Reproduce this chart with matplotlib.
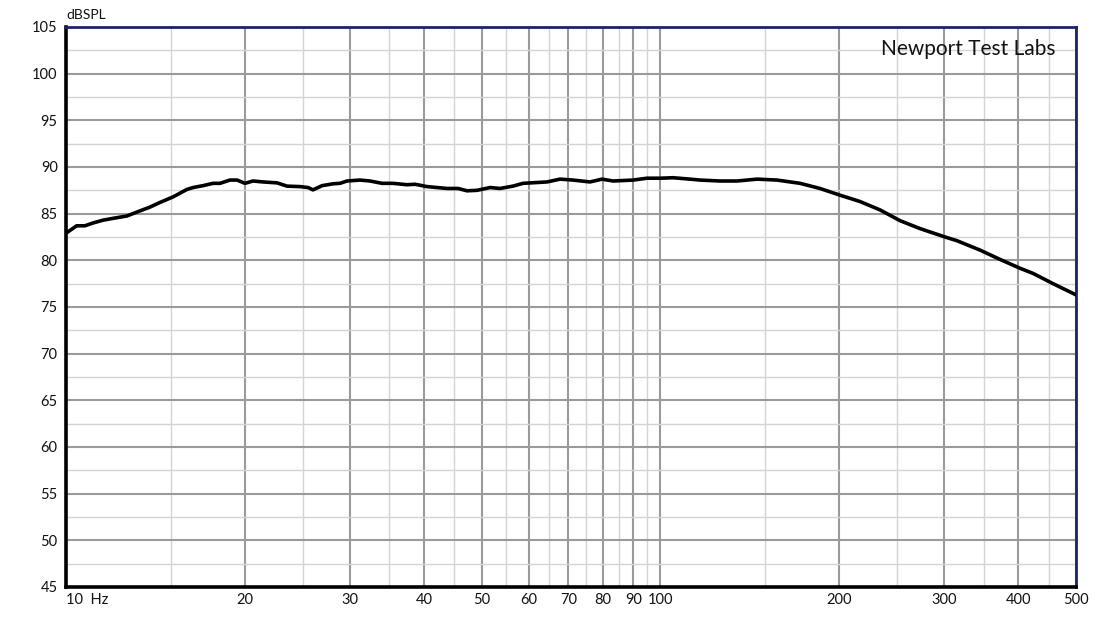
import matplotlib
matplotlib.use("Agg")
import matplotlib.pyplot as plt
from matplotlib.ticker import FixedLocator, NullFormatter

# Data
freq_hz = [10.0, 10.42, 10.76, 11.10, 11.54, 12.00, 12.66, 13.32, 13.84, 14.39,
           15.14, 15.98, 16.36, 17.00, 17.67, 18.16, 18.87, 19.40, 20.0, 20.63,
           21.45, 22.64, 23.54, 24.75, 25.54, 26.03, 26.96, 28.13, 28.90, 29.70,
           31.23, 32.46, 34.01, 35.49, 37.46, 38.65, 40.48, 43.75, 45.65, 47.27,
           49.14, 51.68, 53.72, 56.47, 58.71, 64.44, 67.76, 71.26, 76.11, 79.73,
           83.21, 89.92, 94.92, 100.0, 105.0, 112.1, 116.6, 125.9, 134.5, 145.4,
           157.1, 171.7, 185.5, 200.0, 216.6, 234.1, 252.9, 273.3, 301.1, 315.4,
           344.7, 372.5, 402.6, 423.4, 457.5, 500.0]
spl_db = [82.9, 83.7, 83.7, 84.0, 84.3, 84.5, 84.75, 85.3, 85.7, 86.2,
          86.8, 87.6, 87.8, 88.0, 88.25, 88.25, 88.6, 88.6, 88.25, 88.5,
          88.4, 88.3, 87.95, 87.9, 87.8, 87.55, 88.0, 88.2, 88.25, 88.5,
          88.6, 88.5, 88.25, 88.25, 88.1, 88.15, 87.9, 87.7, 87.7, 87.45,
          87.5, 87.8, 87.7, 87.95, 88.25, 88.4, 88.7, 88.6, 88.4, 88.7,
          88.5, 88.6, 88.8, 88.8, 88.85, 88.7, 88.6, 88.5, 88.5, 88.7,
          88.6, 88.25, 87.7, 87.0, 86.3, 85.4, 84.25, 83.4, 82.5, 82.1,
          81.1, 80.1, 79.15, 78.6, 77.5, 76.3]

x_major = [10, 20, 30, 40, 50, 60, 70, 80, 90, 100, 200, 300, 400, 500]
x_labels = ["10  Hz", "20", "30", "40", "50", "60", "70", "80", "90", "100",
            "200", "300", "400", "500"]
x_minor = [15, 25, 35, 45, 55, 65, 75, 85, 95, 150, 250, 350, 450]
y_major = [45, 50, 55, 60, 65, 70, 75, 80, 85, 90, 95, 100, 105]
y_minor = [47.5, 52.5, 57.5, 62.5, 67.5, 72.5, 77.5, 82.5, 87.5, 92.5, 97.5, 102.5]

plt.rcParams['font.family'] = ['Lato', 'DejaVu Sans']

fig = plt.figure(figsize=(11.1, 6.25), dpi=100)
ax = fig.add_axes([66/1110, 1 - 587/625, 1010/1110, 560/625])

ax.set_xscale('log')
ax.set_xlim(10, 500)
ax.set_ylim(45, 105)

ax.xaxis.set_major_locator(FixedLocator(x_major))
ax.xaxis.set_minor_locator(FixedLocator(x_minor))
ax.xaxis.set_minor_formatter(NullFormatter())
ax.set_xticklabels(x_labels)
ax.yaxis.set_major_locator(FixedLocator(y_major))
ax.yaxis.set_minor_locator(FixedLocator(y_minor))
ax.set_yticklabels([str(v) for v in y_major])

ax.grid(which='major', color='#9a9a9a', linewidth=1.5)
ax.grid(which='minor', color='#d4d4d4', linewidth=1.0)
ax.set_axisbelow(True)

ax.tick_params(which='both', length=0)
ax.tick_params(axis='x', pad=4, labelsize=10.5, colors='#111111')
ax.tick_params(axis='y', pad=6, labelsize=10.5, colors='#111111')
for lab in ax.get_xticklabels():
    if "Hz" in lab.get_text():
        lab.set_horizontalalignment('left')

ax.plot(freq_hz, spl_db, color='black', linewidth=2.6, solid_capstyle='round',
        solid_joinstyle='round', zorder=3)

for side in ['left', 'bottom']:
    ax.spines[side].set_color('black')
    ax.spines[side].set_linewidth(2.6)
for side in ['top', 'right']:
    ax.spines[side].set_color('#1c2560')
    ax.spines[side].set_linewidth(2.0)

fig.text(66/1110, 1 - 15/625, "dBSPL", ha='left', va='center', fontsize=10,
         color='#111111')
ax.text(0.98, 0.978, "Newport Test Labs", transform=ax.transAxes, ha='right',
        va='top', fontsize=15, color='#111111')

fig.savefig("out.png", dpi=100, facecolor='white')
